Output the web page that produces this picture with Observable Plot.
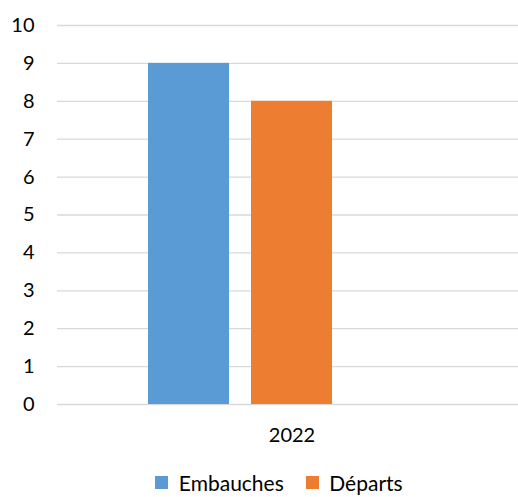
<!DOCTYPE html>
<html>
<head>
<meta charset="utf-8">
<script src="https://cdn.jsdelivr.net/npm/d3@7"></script>
<script src="https://cdn.jsdelivr.net/npm/@observablehq/plot@0.6"></script>
<style>
  html, body { margin: 0; padding: 0; background: #fff; overflow: hidden; }
  #chart { width: 518px; font-family: Lato, "Open Sans", sans-serif; }
  #chart svg { display: block; }
  #legend { text-align: center; height: 26px; margin-left: 40px; }
  #legend > div { display: inline-flex !important; margin: 0 !important; min-height: 0 !important; }
  #legend > div > span { margin-right: 22px !important; }
  #legend > div > span:last-child { margin-right: 0 !important; }
</style>
</head>
<body>
<div id="chart"></div>
<script>
const years = ["2022"];
const series = ["Embauches", "Départs"];
const values = [9, 8];
const colors = ["#5B9BD5", "#ED7D31"];
const yTicks = [0, 1, 2, 3, 4, 5, 6, 7, 8, 9, 10];

const data = series.map((s, i) => ({year: years[0], series: s, value: values[i]}));

const plot = Plot.plot({
  width: 518,
  height: 470,
  marginLeft: 57,
  marginRight: 0,
  marginTop: 25,
  marginBottom: 66,
  style: {fontFamily: "Lato, 'Open Sans', sans-serif", fontSize: "20px", color: "#000", overflow: "visible"},
  x: {type: "band", domain: [...series, ""], range: [147, 437], paddingInner: 0.2115, paddingOuter: 0, axis: null},
  y: {domain: [0, 10], ticks: yTicks, label: null, tickSize: 0, tickPadding: 23},
  color: {domain: series, range: colors},
  marks: [
    Plot.ruleY(yTicks, {stroke: "#d9d9d9", strokeWidth: 1.3}),
    Plot.barY(data, {x: "series", y: "value", fill: "series"}),
    Plot.text(years, {x: () => series[1], frameAnchor: "bottom", dy: 37, fontSize: 20, fill: "#000", text: d => d}),
    Plot.axisY({ticks: yTicks, tickSize: 0, tickPadding: 23, label: null, fontSize: 20})
  ]
});
document.getElementById("chart").appendChild(plot);

const leg = Plot.legend({
  color: {domain: series, range: colors},
  legend: "swatches",
  swatchSize: 13,
  style: {fontFamily: "Lato, 'Open Sans', sans-serif", fontSize: "21px", color: "#000"}
});
const wrap = document.createElement("div");
wrap.id = "legend";
wrap.appendChild(leg);
document.getElementById("chart").appendChild(wrap);
</script>
</body>
</html>
